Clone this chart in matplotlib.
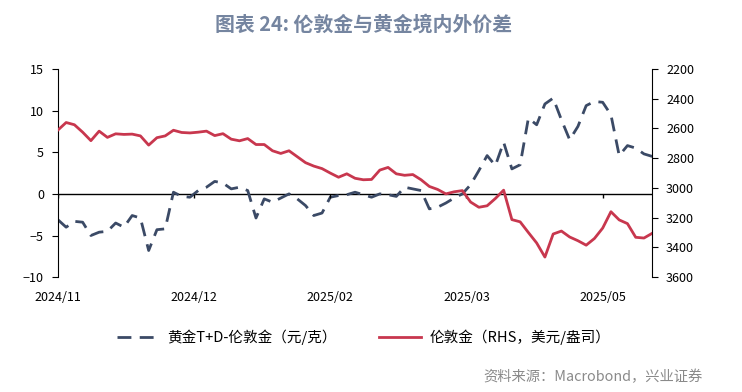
import numpy as np
import matplotlib.pyplot as plt

plt.rcParams['font.family'] = ['Noto Sans CJK SC', 'DejaVu Sans']

################################################################################
"Data"
################################################################################
# trading-day index, one reading every 2 trading days
days = np.arange(0, 145, 2)

# 黄金T+D - 伦敦金 (元/克), left axis
spread = [-3.1, -4.0, -3.3, -3.4, -5.0, -4.6, -4.5, -3.5, -4.0, -2.6,
          -2.9, -6.8, -4.3, -4.2, 0.2, -0.3, -0.4, 0.4, 0.8, 1.5,
          1.3, 0.6, 0.8, 0.4, -2.9, -0.6, -1.0, -0.5, 0.0, -0.6,
          -1.4, -2.6, -2.3, -0.4, -0.2, -0.1, 0.2, -0.1, -0.4, 0.0,
          -0.1, -0.3, 0.8, 0.6, 0.4, -1.8, -1.6, -1.1, -0.5, 0.0,
          1.1, 2.8, 4.6, 3.4, 6.2, 3.0, 3.5, 9.1, 8.3, 10.8,
          11.5, 8.9, 6.5, 8.1, 10.6, 11.1, 11.0, 9.5, 4.6, 5.8,
          5.5, 4.8, 4.5]

# 伦敦金 (美元/盎司), right axis (inverted)
london = [2611, 2560, 2575, 2625, 2682, 2618, 2660, 2636, 2640, 2638,
          2650, 2712, 2662, 2650, 2612, 2627, 2630, 2625, 2618, 2648,
          2635, 2672, 2683, 2668, 2708, 2708, 2750, 2768, 2750, 2790,
          2830, 2853, 2870, 2900, 2928, 2905, 2935, 2945, 2943, 2880,
          2862, 2905, 2915, 2910, 2945, 2990, 3010, 3040, 3026, 3018,
          3095, 3130, 3120, 3071, 3015, 3213, 3228, 3300, 3370, 3465,
          3310, 3290, 3330, 3355, 3385, 3340, 3270, 3160, 3215, 3240,
          3332, 3337, 3305]

tick_pos = [0, 33, 66, 99, 132]
tick_labels = ['2024/11', '2024/12', '2025/02', '2025/03', '2025/05']

red = '#C8374E'
navy = '#3B4A66'

################################################################################
"Plot"
################################################################################
fig = plt.figure(figsize=(7.42, 3.92), dpi=100)
ax = fig.add_axes([0.078, 0.293, 0.801, 0.531])
ax2 = ax.twinx()

l1, = ax.plot(days, spread, color=navy, lw=2, ls=(0, (5, 3)))
l2, = ax2.plot(days, london, color=red, lw=2)

ax.set_xlim(days[0], days[-1])
ax.set_ylim(-10, 15)
ax.set_yticks([-10, -5, 0, 5, 10, 15])
ax2.set_ylim(3600, 2200)
ax2.set_yticks(range(2200, 3601, 200))

# zero line carries the date ticks, labels sit under the plot
ax.axhline(0, color='black', lw=1, zorder=1)
ax.vlines(tick_pos, -0.5, 0, color='black', lw=1)
ax.set_xticks(tick_pos)
ax.set_xticklabels(tick_labels)
ax.tick_params(axis='x', length=0, pad=10, labelsize=9)
ax.tick_params(axis='y', length=4, labelsize=9, pad=6)
ax2.tick_params(axis='y', length=4, labelsize=9, pad=6)

for a in (ax, ax2):
    a.spines['top'].set_visible(False)
    a.spines['bottom'].set_visible(False)
ax.spines['right'].set_visible(False)
ax2.spines['left'].set_visible(False)

fig.text(0.49, 0.938, '图表 24: 伦敦金与黄金境内外价差', ha='center', va='center',
         fontsize=14.3, fontweight='bold', color='#7585A0')

fig.legend([l1, l2], ['黄金T+D-伦敦金（元/克）', '伦敦金（RHS，美元/盎司）'],
           loc='center', bbox_to_anchor=(0.49, 0.14), ncol=2, frameon=False,
           fontsize=10.5, handlelength=2.9, handletextpad=0.55, columnspacing=2.9)

fig.text(0.652, 0.038, '资料来源：Macrobond，兴业证券', ha='left', va='center',
         fontsize=10.3, color='#8A8A8A')

plt.savefig('out.png', dpi=100)
